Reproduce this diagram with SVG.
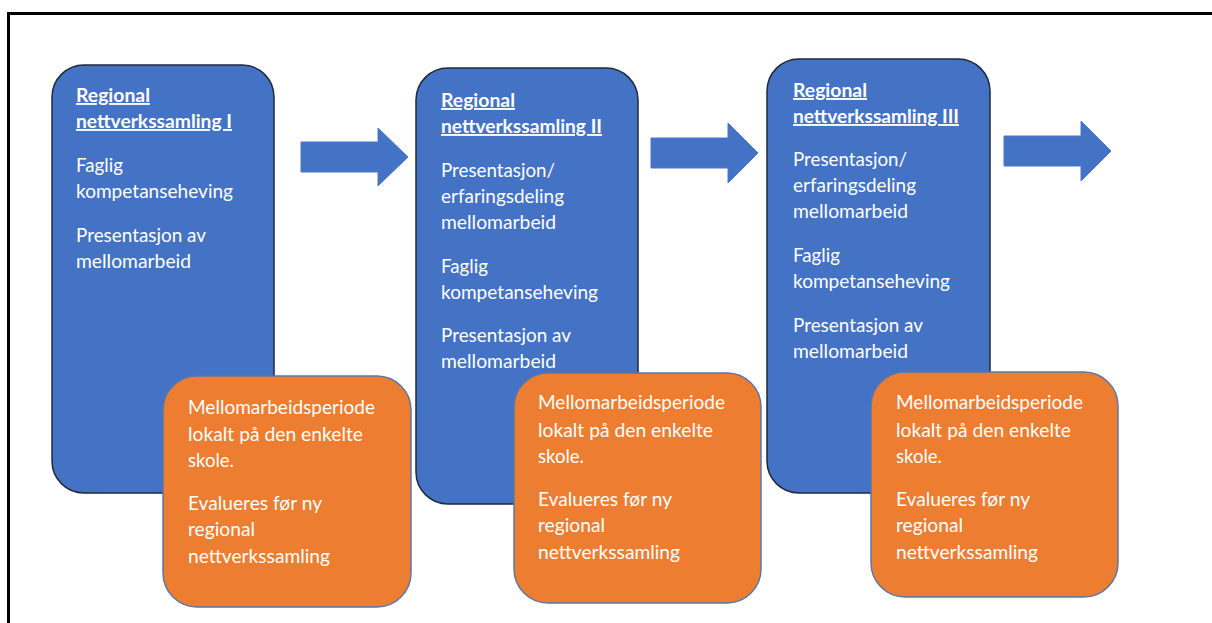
<svg xmlns="http://www.w3.org/2000/svg" width="1212" height="623" viewBox="0 0 1212 623">
<style>
.frame{stroke:#000;stroke-width:3;fill:none}
.blue{fill:#4472C4;stroke:#1e2a3c;stroke-width:1.5}
.orange{fill:#ED7D31;stroke:#5a78a8;stroke-width:1.5}
.arrow{fill:#4472C4;stroke:#4a78c8;stroke-width:1}
text{font-family:Lato,"Open Sans","Liberation Sans",sans-serif;font-size:19px;fill:#fff}
.t{font-weight:bold;text-decoration:underline}
</style>
<rect width="1212" height="623" fill="#fff"/>
<path class="frame" d="M8.5,623 V13.5 H1212"/>
<g id="connectors">
<polygon class="arrow" points="301,142 378,142 378,128 408,157 378,186 378,172 301,172"/>
<polygon class="arrow" points="651,138 728,138 728,123 758,153 728,183 728,168 651,168"/>
<polygon class="arrow" points="1004,136 1081,136 1081,121 1111,151 1081,181 1081,166 1004,166"/>
</g>
<g id="node1">
<rect class="blue" x="52" y="65" width="222" height="428" rx="32"/>
<text class="t" x="76" y="102" textLength="74" lengthAdjust="spacingAndGlyphs">Regional</text>
<text class="t" x="76" y="128" textLength="156" lengthAdjust="spacingAndGlyphs">nettverkssamling I</text>
<text x="76" y="172" textLength="47" lengthAdjust="spacingAndGlyphs">Faglig</text>
<text x="76" y="198" textLength="157" lengthAdjust="spacingAndGlyphs">kompetanseheving</text>
<text x="76" y="242" textLength="130" lengthAdjust="spacingAndGlyphs">Presentasjon av</text>
<text x="76" y="268" textLength="115" lengthAdjust="spacingAndGlyphs">mellomarbeid</text>
</g>
<g id="node2">
<rect class="blue" x="416" y="68" width="222" height="436" rx="32"/>
<text class="t" x="441" y="107" textLength="74" lengthAdjust="spacingAndGlyphs">Regional</text>
<text class="t" x="441" y="133" textLength="161" lengthAdjust="spacingAndGlyphs">nettverkssamling II</text>
<text x="441" y="177" textLength="114" lengthAdjust="spacingAndGlyphs">Presentasjon/</text>
<text x="441" y="203" textLength="123" lengthAdjust="spacingAndGlyphs">erfaringsdeling</text>
<text x="441" y="229" textLength="115" lengthAdjust="spacingAndGlyphs">mellomarbeid</text>
<text x="441" y="273" textLength="47" lengthAdjust="spacingAndGlyphs">Faglig</text>
<text x="441" y="299" textLength="157" lengthAdjust="spacingAndGlyphs">kompetanseheving</text>
<text x="441" y="342" textLength="130" lengthAdjust="spacingAndGlyphs">Presentasjon av</text>
<text x="441" y="368" textLength="115" lengthAdjust="spacingAndGlyphs">mellomarbeid</text>
</g>
<g id="node3">
<rect class="blue" x="767" y="59" width="223" height="434" rx="32"/>
<text class="t" x="793" y="97" textLength="74" lengthAdjust="spacingAndGlyphs">Regional</text>
<text class="t" x="793" y="123" textLength="166" lengthAdjust="spacingAndGlyphs">nettverkssamling III</text>
<text x="793" y="166" textLength="114" lengthAdjust="spacingAndGlyphs">Presentasjon/</text>
<text x="793" y="192" textLength="123" lengthAdjust="spacingAndGlyphs">erfaringsdeling</text>
<text x="793" y="218" textLength="115" lengthAdjust="spacingAndGlyphs">mellomarbeid</text>
<text x="793" y="262" textLength="47" lengthAdjust="spacingAndGlyphs">Faglig</text>
<text x="793" y="288" textLength="157" lengthAdjust="spacingAndGlyphs">kompetanseheving</text>
<text x="793" y="332" textLength="130" lengthAdjust="spacingAndGlyphs">Presentasjon av</text>
<text x="793" y="358" textLength="115" lengthAdjust="spacingAndGlyphs">mellomarbeid</text>
</g>
<g id="period1">
<rect class="orange" x="163" y="376" width="248" height="231" rx="34"/>
<text x="188" y="414" textLength="187" lengthAdjust="spacingAndGlyphs">Mellomarbeidsperiode</text>
<text x="188" y="441" textLength="175" lengthAdjust="spacingAndGlyphs">lokalt på den enkelte</text>
<text x="188" y="467" textLength="46" lengthAdjust="spacingAndGlyphs">skole.</text>
<text x="188" y="510" textLength="134" lengthAdjust="spacingAndGlyphs">Evalueres før ny</text>
<text x="188" y="536" textLength="67" lengthAdjust="spacingAndGlyphs">regional</text>
<text x="188" y="563" textLength="142" lengthAdjust="spacingAndGlyphs">nettverkssamling</text>
</g>
<g id="period2">
<rect class="orange" x="514" y="373" width="247" height="230" rx="34"/>
<text x="538" y="409" textLength="187" lengthAdjust="spacingAndGlyphs">Mellomarbeidsperiode</text>
<text x="538" y="437" textLength="175" lengthAdjust="spacingAndGlyphs">lokalt på den enkelte</text>
<text x="538" y="463" textLength="46" lengthAdjust="spacingAndGlyphs">skole.</text>
<text x="538" y="506" textLength="134" lengthAdjust="spacingAndGlyphs">Evalueres før ny</text>
<text x="538" y="532" textLength="67" lengthAdjust="spacingAndGlyphs">regional</text>
<text x="538" y="559" textLength="142" lengthAdjust="spacingAndGlyphs">nettverkssamling</text>
</g>
<g id="period3">
<rect class="orange" x="871" y="372" width="247" height="225" rx="34"/>
<text x="896" y="409" textLength="187" lengthAdjust="spacingAndGlyphs">Mellomarbeidsperiode</text>
<text x="896" y="437" textLength="175" lengthAdjust="spacingAndGlyphs">lokalt på den enkelte</text>
<text x="896" y="463" textLength="46" lengthAdjust="spacingAndGlyphs">skole.</text>
<text x="896" y="506" textLength="134" lengthAdjust="spacingAndGlyphs">Evalueres før ny</text>
<text x="896" y="532" textLength="67" lengthAdjust="spacingAndGlyphs">regional</text>
<text x="896" y="559" textLength="142" lengthAdjust="spacingAndGlyphs">nettverkssamling</text>
</g>
</svg>
